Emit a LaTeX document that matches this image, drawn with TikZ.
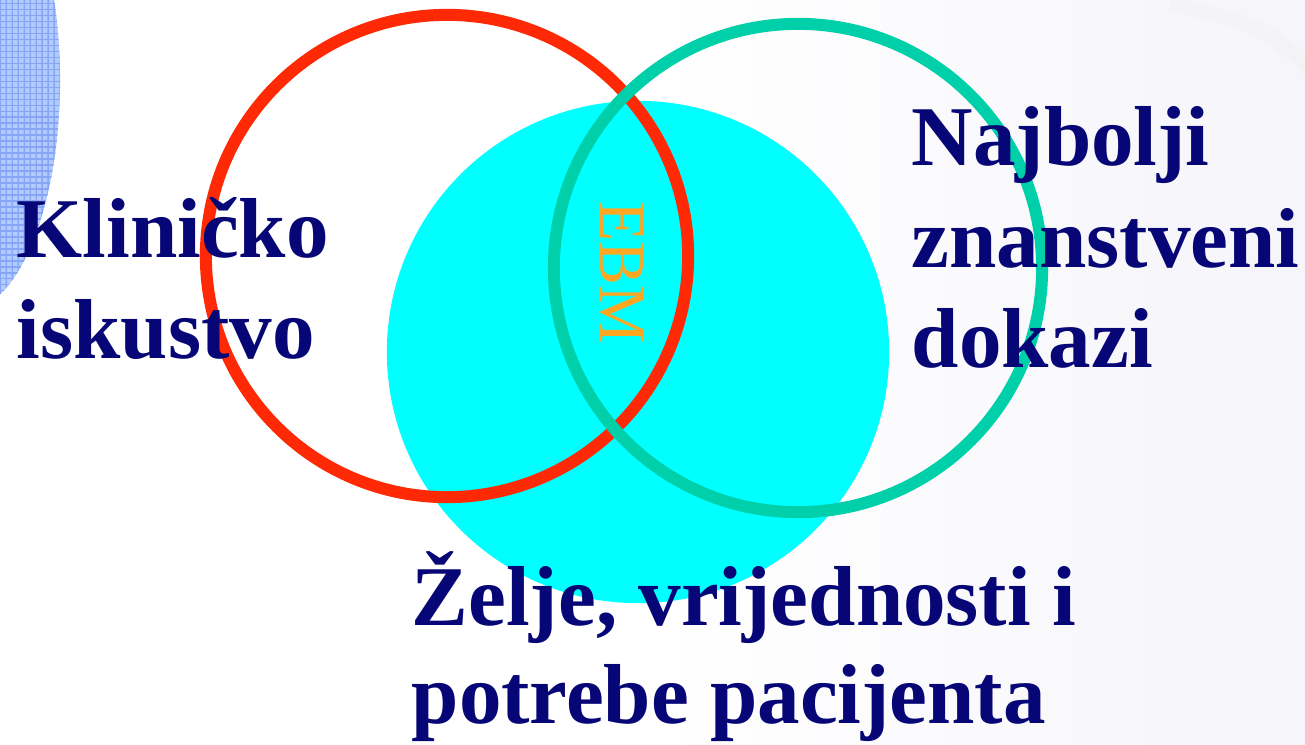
\documentclass[tikz,border=0pt]{standalone}
\usepackage{fontspec}
\setmainfont{Liberation Serif}
\usetikzlibrary{patterns.meta}
\definecolor{navy}{RGB}{6,6,118}
\definecolor{ebmorange}{RGB}{255,166,32}
\definecolor{ringred}{RGB}{255,42,5}
\definecolor{ringgreen}{RGB}{0,208,170}
\definecolor{cyanfill}{RGB}{0,255,255}
\definecolor{patblue}{RGB}{178,202,252}
\definecolor{patline}{RGB}{135,165,245}
\definecolor{bgright}{RGB}{245,245,250}
\tikzdeclarepattern{
  name=finegrid, type=uncolored,
  bounding box={(-0.1pt,-0.1pt) and (1.8pt,1.8pt)},
  tile size={(1.7pt,1.7pt)},
  code={\draw[line width=0.45pt] (0,0) -- (1.7pt,0) (0,0) -- (0,1.7pt);}
}
\tikzset{
  lbl/.style={font=\fontsize{24.2}{28}\selectfont\bfseries, text=navy, inner sep=0pt, anchor=base west},
  ring/.style={line width=0.12cm},
}
\begin{document}
\begin{tikzpicture}[x=0.01cm,y=-0.01cm]
\useasboundingbox (0,0) rectangle (1305,745);
\clip (0,0) rectangle (1305,745);
% background
\shade[left color=white, right color=bgright, middle color=white] (0,0) rectangle (1305,745);
\draw[line width=0.15cm, white!90!gray, opacity=0.45] (1170,5) .. controls (1240,15) and (1280,35) .. (1310,70);
% left patterned shape
\fill[patblue] (-34,80) ellipse [x radius=0.94cm, y radius=2.30cm];
\fill[pattern=finegrid, pattern color=patline] (-34,80) ellipse [x radius=0.94cm, y radius=2.30cm];
% circles
\fill[cyanfill] (638,352) circle [radius=2.51cm];
\draw[ring, ringred] (447,256) circle [radius=2.41cm];
\draw[ring, ringgreen] (798,268) circle [radius=2.44cm];
% EBM
\node[font=\fontsize{18.7}{20}\selectfont, text=ebmorange, rotate=-90, inner sep=0pt] (ebm) at (622,272.5) {EBM};
% labels
\node[lbl] (k1) at (16,257) {Kliničko};
\node[lbl] (k2) at (16,358) {iskustvo};
\node[lbl] (n1) at (911,165) {Najbolji};
\node[lbl] (n2) at (911,267) {znanstveni};
\node[lbl] (n3) at (911,367) {dokazi};
\node[lbl] (z1) at (411,625) {Želje, vrijednosti i};
\node[lbl] (z2) at (411,723) {potrebe pacijenta};
\end{tikzpicture}
\end{document}
